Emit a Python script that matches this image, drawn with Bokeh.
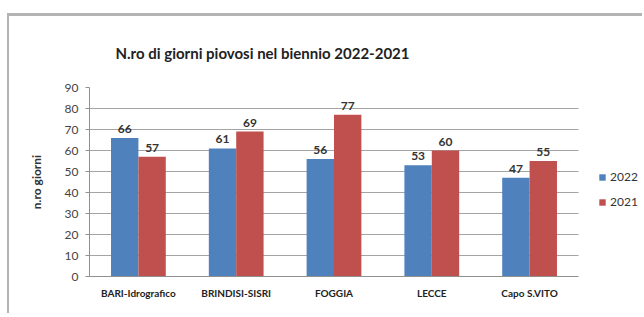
from bokeh.plotting import figure
from bokeh.models import (ColumnDataSource, Range1d, Legend, LegendItem,
                          SingleIntervalTicker, FixedTicker)
from bokeh.transform import dodge
from bokeh.core.properties import value
from bokeh.embed import file_html
from bokeh.resources import INLINE

categories = ["BARI-Idrografico", "BRINDISI-SISRI", "FOGGIA", "LECCE", "Capo S.VITO"]
v2022 = [66, 61, 56, 53, 47]
v2021 = [57, 69, 77, 60, 55]
series_names = ["2022", "2021"]
title_text = "N.ro di giorni piovosi nel biennio 2022-2021"
y_label = "n.ro giorni"

BLUE = "#4F81BD"
RED = "#C0504D"
FONT = "Lato"

pos = list(range(len(categories)))
src = ColumnDataSource(dict(
    x=pos, a=v2022, b=v2021,
    at=[str(v) for v in v2022], bt=[str(v) for v in v2021],
))

p = figure(x_range=Range1d(-0.5, 5.175), y_range=Range1d(0, 90),
           width=635, height=300, output_backend="svg", toolbar_location=None,
           min_border_left=80, min_border_right=0, min_border_top=69, min_border_bottom=40)
p.styles = {"border-top": "3px solid #b4b4b4", "border-left": "2px solid #b4b4b4",
            "margin-top": "13px", "margin-left": "7px"}

p.title.text = title_text
p.title.text_font = FONT
p.title.text_font_size = "15px"
p.title.text_font_style = "bold"
p.title.text_color = "#222222"
p.title.align = "left"
p.title.offset = 26
p.title.standoff = 51

r1 = p.vbar(x=dodge("x", -0.14), top="a", width=0.28, source=src,
            fill_color=BLUE, line_color=None)
r2 = p.vbar(x=dodge("x", 0.14), top="b", width=0.28, source=src,
            fill_color=RED, line_color=None)

p.text(x=dodge("x", -0.14), y="a", text="at", source=src,
       text_align="center", text_baseline="bottom", y_offset=-5,
       text_font=value(FONT), text_font_size="12px", text_font_style="bold", text_color="#333333")
p.text(x=dodge("x", 0.14), y="b", text="bt", source=src,
       text_align="center", text_baseline="bottom", y_offset=-5,
       text_font=value(FONT), text_font_size="12px", text_font_style="bold", text_color="#333333")

p.yaxis.ticker = SingleIntervalTicker(interval=10)
p.ygrid.grid_line_color = "#a4a4a4"
p.ygrid.grid_line_width = 1
p.ygrid.cross_bounds = (-0.5, len(categories) - 0.5)
p.xgrid.grid_line_color = None
p.outline_line_color = None

p.yaxis.axis_label = y_label
p.yaxis.axis_label_text_font = FONT
p.yaxis.axis_label_text_font_size = "12px"
p.yaxis.axis_label_text_font_style = "bold"
p.yaxis.axis_label_text_color = "#333333"
p.yaxis.axis_label_standoff = 18
p.yaxis.major_label_text_font = FONT
p.yaxis.major_label_text_font_size = "12px"
p.yaxis.major_label_text_color = "#444444"
p.yaxis.axis_line_color = "#909090"
p.yaxis.major_tick_line_color = "#909090"
p.yaxis.major_tick_out = 4
p.yaxis.major_tick_in = 0
p.yaxis.minor_tick_line_color = None
p.yaxis.major_label_standoff = 7

p.xaxis.ticker = FixedTicker(ticks=pos)
p.xaxis.major_label_overrides = {i: c for i, c in zip(pos, categories)}
p.xaxis.bounds = (-0.5, len(categories) - 0.5)
p.xaxis.axis_line_color = "#909090"
p.xaxis.major_tick_line_color = None
p.xaxis.minor_tick_line_color = None
p.xaxis.major_label_text_font = FONT
p.xaxis.major_label_text_font_size = "10px"
p.xaxis.major_label_text_font_style = "bold"
p.xaxis.major_label_text_color = "#222222"
p.xaxis.major_label_standoff = 4

legend = Legend(items=[LegendItem(label=series_names[0], renderers=[r1]),
                       LegendItem(label=series_names[1], renderers=[r2])],
                location=(509, 67), orientation="vertical",
                glyph_width=8, glyph_height=8, label_height=14, label_standoff=4,
                spacing=10, padding=0, margin=0, border_line_color=None,
                background_fill_alpha=0,
                label_text_font=FONT, label_text_font_size="12px", label_text_color="#333333")
p.add_layout(legend, "center")

open("out.html", "w").write(file_html(p, INLINE))
